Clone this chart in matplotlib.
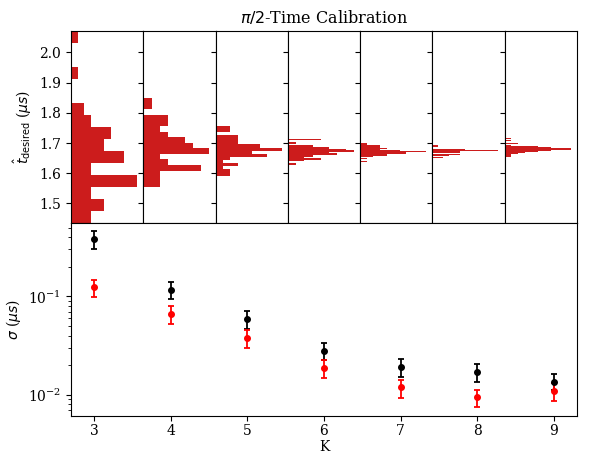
import numpy as np
import matplotlib
matplotlib.use("Agg")
import matplotlib.pyplot as plt

plt.rcParams["font.family"] = "serif"
plt.rcParams["mathtext.fontset"] = "dejavusans"

# Histogram data: for each K, the bin range and the counts per bin (bottom to top)
K_values = [3, 4, 5, 6, 7, 8, 9]
bin_lo = [1.435, 1.553, 1.592, 1.628, 1.638, 1.651, 1.655]
bin_hi = [2.071, 1.849, 1.757, 1.714, 1.700, 1.694, 1.717]
counts_k3 = [3, 5, 3, 10, 3, 8, 5, 6, 3, 2, 0, 0, 1, 0, 0, 1]
counts_k4 = [2, 2, 2, 7, 3, 2, 8, 6, 5, 3, 2, 3, 3, 0, 1, 1]
counts_k5 = [2, 2, 1, 3, 1, 2, 7, 5, 9, 6, 3, 3, 3, 0, 2, 2]
counts_k6 = [1, 0, 2, 4, 2, 3, 6, 5, 8, 7, 5, 3, 0, 1, 0, 4]
counts_k7 = [1, 0, 1, 0, 2, 4, 4, 7, 10, 6, 3, 4, 3, 3, 1, 1]
counts_k8 = [2, 0, 3, 4, 5, 0, 5, 5, 12, 6, 6, 0, 0, 1, 0, 1]
counts_k9 = [1, 1, 2, 3, 5, 7, 10, 7, 5, 1, 0, 2, 0, 1, 0, 1]
hist_counts = [counts_k3, counts_k4, counts_k5, counts_k6, counts_k7, counts_k8, counts_k9]

# Spread of the calibrated time vs K (two estimators), with asymmetric errors
sigma_black = [0.382, 0.117, 0.059, 0.0279, 0.0193, 0.0172, 0.01346]
sigma_black_lo = [0.30, 0.093, 0.047, 0.0226, 0.0153, 0.0136, 0.0112]
sigma_black_hi = [0.46, 0.141, 0.0715, 0.0333, 0.0233, 0.0206, 0.0163]
sigma_red = [0.124, 0.066, 0.0379, 0.0187, 0.0119, 0.00947, 0.0110]
sigma_red_lo = [0.098, 0.0526, 0.030, 0.0149, 0.0094, 0.00748, 0.0087]
sigma_red_hi = [0.148, 0.079, 0.046, 0.0224, 0.0142, 0.0113, 0.0132]

W, H = 592, 455
fig = plt.figure(figsize=(W / 100, H / 100), dpi=100)

left_px, right_px = 71, 577
top_px, mid_px, bot_px = 31, 223, 416
n = len(K_values)
pw = (right_px - left_px) / n

hist_axes = []
for i, counts in enumerate(hist_counts):
    ax = fig.add_axes([(left_px + i * pw) / W, 1 - mid_px / H, pw / W, (mid_px - top_px) / H],
                      sharey=hist_axes[0] if hist_axes else None)
    edges = np.linspace(bin_lo[i], bin_hi[i], len(counts) + 1)
    ax.barh(edges[:-1], counts, height=np.diff(edges), align="edge",
            color="#cc1c1c", linewidth=0)
    ax.set_xlim(0, max(counts) * 1.095)
    ax.set_xticks([])
    ax.tick_params(axis="y", direction="out", length=3.5)
    if i > 0:
        ax.tick_params(axis="y", labelleft=False)
    hist_axes.append(ax)

hist_axes[0].set_ylim(bin_lo[0], bin_hi[0])
hist_axes[0].set_yticks([1.5, 1.6, 1.7, 1.8, 1.9, 2.0])
hist_axes[0].set_ylabel(r"$\hat{t}_{\rm desired}$ ($\mu s$)")
hist_axes[3].set_title(r"$\pi/2$-Time Calibration", fontsize=11.5)

ax2 = fig.add_axes([left_px / W, 1 - bot_px / H, (right_px - left_px) / W, (bot_px - mid_px) / H])
K = np.array(K_values)
sb = np.array(sigma_black)
sr = np.array(sigma_red)
ax2.errorbar(K, sb, yerr=[sb - np.array(sigma_black_lo), np.array(sigma_black_hi) - sb],
             fmt="o", color="k", ms=4, capsize=2, elinewidth=1.3, capthick=1.3)
ax2.errorbar(K, sr, yerr=[sr - np.array(sigma_red_lo), np.array(sigma_red_hi) - sr],
             fmt="o", color="r", ms=4, capsize=2, elinewidth=1.3, capthick=1.3)
ax2.set_yscale("log")
ax2.set_xlim(2.7, 9.3)
ax2.set_ylim(0.0061, 0.556)
ax2.set_xticks(K_values)
ax2.tick_params(axis="x", pad=2.5)
ax2.set_xlabel("K", labelpad=1)
ax2.set_ylabel(r"$\sigma$ ($\mu s$)")

fig.savefig("out.png", dpi=100)
